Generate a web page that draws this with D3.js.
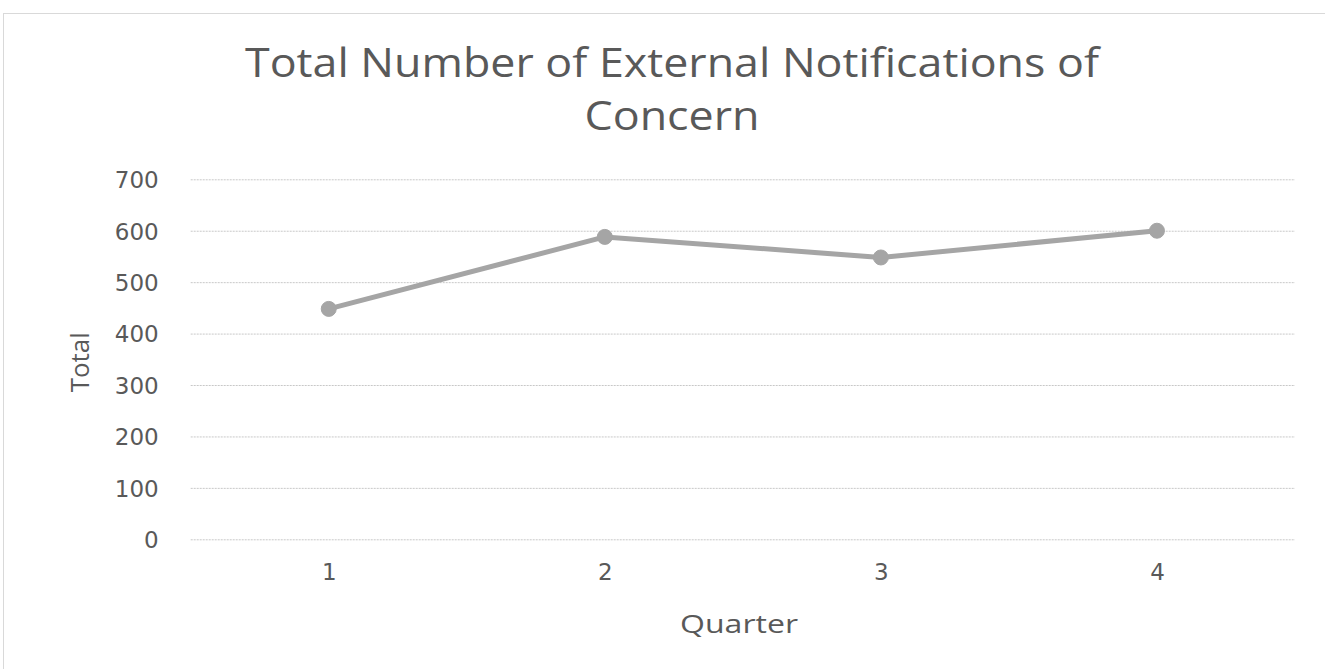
<!DOCTYPE html>
<html>
<head>
<meta charset="utf-8">
<script src="https://cdn.jsdelivr.net/npm/d3@7"></script>
<style>
  html, body { margin: 0; padding: 0; background: #ffffff; }
  svg { display: block; }
</style>
</head>
<body>
<svg id="chart" width="1325" height="669"></svg>
<script>
// Quarterly totals of external notifications of concern
const quarters = ["1", "2", "3", "4"];
const totals = [448, 588, 548, 600];
const yTicks = [0, 100, 200, 300, 400, 500, 600, 700];
const titleLines = ["Total Number of External Notifications of", "Concern"];

const W = 1325, H = 669;
const plot = { left: 190.7, right: 1295, top: 179.3, bottom: 539.3 };

const condensed = "'Liberation Sans Narrow', 'Arial Narrow', 'Open Sans', sans-serif";
const tickFont = "'DejaVu Sans', Verdana, sans-serif";
const textColor = "#595959";

const svg = d3.select("#chart");

// chart frame
svg.append("rect")
  .attr("x", 3.5).attr("y", 13.5)
  .attr("width", W + 20).attr("height", H + 20)
  .attr("fill", "#ffffff")
  .attr("stroke", "#d9d9d9").attr("stroke-width", 1);

const x = d3.scalePoint()
  .domain(quarters)
  .range([plot.left, plot.right])
  .padding(0.5);

const y = d3.scaleLinear()
  .domain([0, 700])
  .range([plot.bottom, plot.top]);

// horizontal gridlines
const grid = svg.append("g")
  .attr("transform", `translate(${plot.left},0)`)
  .call(d3.axisLeft(y).tickValues(yTicks).tickSize(-(plot.right - plot.left)).tickFormat(""));
grid.select(".domain").remove();
grid.selectAll(".tick line")
  .attr("stroke", "#c8c8c8")
  .attr("stroke-width", 1)
  .attr("stroke-dasharray", "2,1");

// y-axis labels
const yAxis = svg.append("g")
  .attr("transform", `translate(${plot.left},0)`)
  .call(d3.axisLeft(y).tickValues(yTicks).tickSize(0).tickPadding(32));
yAxis.select(".domain").remove();
yAxis.selectAll("text")
  .attr("font-family", tickFont)
  .attr("font-size", 23)
  .attr("fill", textColor)
  .attr("dy", "0.36em");

// x-axis labels
const xAxis = svg.append("g")
  .attr("transform", `translate(0,${plot.bottom})`)
  .call(d3.axisBottom(x).tickSize(0).tickPadding(24));
xAxis.select(".domain").remove();
xAxis.selectAll("text")
  .attr("font-family", tickFont)
  .attr("font-size", 23)
  .attr("fill", textColor)
  .attr("dy", "0.71em");

// series line
const line = d3.line()
  .x((d, i) => x(quarters[i]))
  .y(d => y(d));

svg.append("path")
  .datum(totals)
  .attr("d", line)
  .attr("fill", "none")
  .attr("stroke", "#a5a5a5")
  .attr("stroke-width", 5)
  .attr("stroke-linejoin", "round");

svg.selectAll("circle.pt")
  .data(totals)
  .join("circle")
  .attr("class", "pt")
  .attr("cx", (d, i) => x(quarters[i]))
  .attr("cy", d => y(d))
  .attr("r", 7.5)
  .attr("fill", "#a5a5a5")
  .attr("stroke", "#a5a5a5")
  .attr("stroke-width", 1);

// title
const titleWidths = [854, 175];
const titleBase = [77, 130];
titleLines.forEach((t, i) => {
  svg.append("text")
    .attr("x", 672).attr("y", titleBase[i])
    .attr("text-anchor", "middle")
    .attr("font-family", condensed)
    .attr("font-size", 40)
    .attr("fill", textColor)
    .attr("textLength", titleWidths[i])
    .attr("lengthAdjust", "spacingAndGlyphs")
    .text(t);
});

// axis titles
svg.append("text")
  .attr("transform", `translate(89,${(plot.top + plot.bottom) / 2 + 3}) rotate(-90)`)
  .attr("text-anchor", "middle")
  .attr("font-family", condensed)
  .attr("font-size", 25)
  .attr("fill", textColor)
  .attr("textLength", 60)
  .attr("lengthAdjust", "spacingAndGlyphs")
  .text("Total");

svg.append("text")
  .attr("x", 739).attr("y", 633)
  .attr("text-anchor", "middle")
  .attr("font-family", condensed)
  .attr("font-size", 25)
  .attr("fill", textColor)
  .attr("textLength", 118)
  .attr("lengthAdjust", "spacingAndGlyphs")
  .text("Quarter");
</script>
</body>
</html>
